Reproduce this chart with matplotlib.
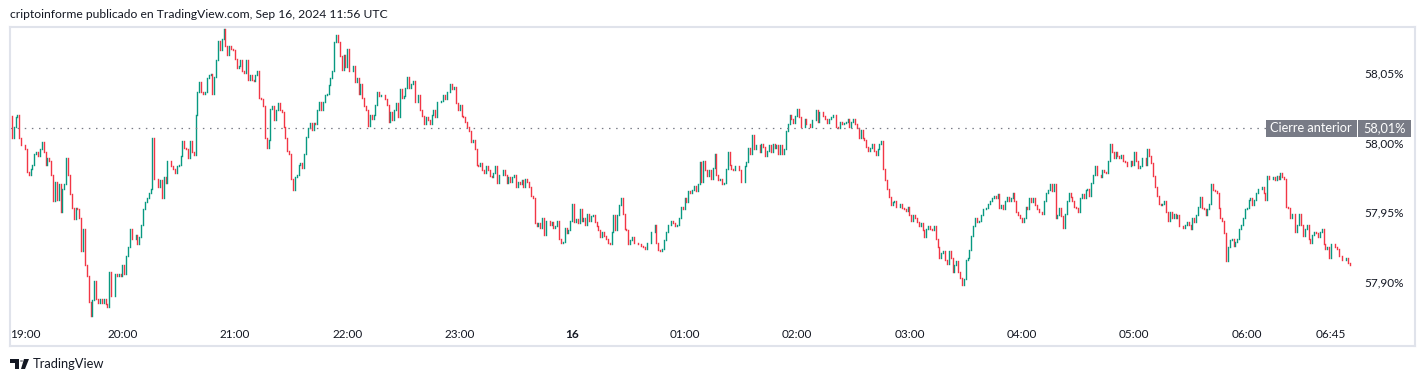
import numpy as np
import pandas as pd
import matplotlib
matplotlib.use("Agg")
import matplotlib.pyplot as plt
import matplotlib.transforms as mtransforms
from matplotlib.patches import Rectangle, Polygon

plt.rcParams['font.family'] = ['Lato', 'DejaVu Sans']

# 1-minute closes (in %), 19:01 -> 06:55
part1 = [58.003, 58.011, 58.018, 58.020, 58.003, 57.998, 57.998, 57.995, 57.979, 57.977,
         57.981, 57.984, 57.992, 57.993, 57.990, 57.995, 58.000, 57.993, 57.984, 57.989,
         57.987, 57.977, 57.958, 57.972, 57.959, 57.970, 57.950, 57.967, 57.970, 57.989,
         57.977, 57.963, 57.953, 57.945, 57.953, 57.952, 57.946, 57.922, 57.938, 57.912,
         57.904, 57.886, 57.876, 57.887, 57.901, 57.888, 57.885, 57.888, 57.885, 57.888,
         57.884, 57.882, 57.907, 57.890, 57.890, 57.906, 57.904, 57.906, 57.904, 57.912,
         57.906, 57.919, 57.925, 57.938, 57.931, 57.931, 57.934, 57.927, 57.932, 57.941,
         57.952, 57.957, 57.960, 57.964, 57.967, 58.003, 57.974, 57.974, 57.968, 57.973,
         57.960, 57.975, 57.971, 57.987, 57.987, 57.983, 57.981, 57.978, 57.983, 57.984,
         57.990, 58.001, 57.996, 57.995, 57.989, 58.001, 57.993, 57.991, 58.020, 58.036,
         58.043, 58.036, 58.035, 58.036, 58.046, 58.048, 58.049, 58.035, 58.047, 58.059,
         58.073, 58.066, 58.074, 58.081, 58.069, 58.063, 58.069, 58.067, 58.066, 58.060,
         58.053, 58.055, 58.059, 58.051, 58.050, 58.059, 58.045, 58.048, 58.045, 58.044,
         58.048, 58.051, 58.032, 58.031, 58.026, 58.003, 57.996, 58.002, 58.024, 58.026,
         58.016, 58.023, 58.028, 58.023]
part2 = [58.022, 58.011, 58.003, 57.994, 57.992, 57.974, 57.966, 57.975, 57.977, 57.984,
         57.985, 57.982, 57.992, 58.004, 58.010, 58.014, 58.009, 58.014, 58.013, 58.023,
         58.029, 58.023, 58.029, 58.034, 58.035, 58.041, 58.046, 58.051, 58.072, 58.077,
         58.072, 58.062, 58.052, 58.063, 58.054, 58.067, 58.051, 58.051, 58.055, 58.043, 58.046,
         58.035, 58.042, 58.032, 58.026, 58.023, 58.012, 58.020, 58.017, 58.020, 58.027,
         58.036, 58.033, 58.034, 58.034, 58.031, 58.027, 58.015, 58.022, 58.016, 58.023,
         58.028, 58.018, 58.038, 58.032, 58.033, 58.039, 58.047, 58.039, 58.042, 58.044,
         58.029, 58.029, 58.034, 58.023, 58.019, 58.013, 58.018, 58.016, 58.013, 58.020,
         58.023, 58.018, 58.029, 58.029, 58.030, 58.034, 58.031, 58.036, 58.036, 58.042,
         58.038, 58.040, 58.028, 58.023, 58.027, 58.019, 58.018, 58.015, 58.011, 58.008,
         58.000, 58.002, 57.995, 57.984, 57.983, 57.985, 57.980, 57.978, 57.983, 57.980,
         57.976, 57.975, 57.978, 57.983, 57.971, 57.977, 57.977, 57.980, 57.977, 57.971,
         57.975, 57.972, 57.975, 57.977, 57.968, 57.972, 57.970, 57.973, 57.968, 57.974,
         57.972, 57.968, 57.962, 57.960, 57.942, 57.940, 57.942, 57.939, 57.946, 57.934]
part3 = [57.944, 57.944, 57.941, 57.943, 57.939, 57.940, 57.944, 57.931, 57.928, 57.929,
         57.939, 57.935, 57.937, 57.944, 57.956, 57.943, 57.945, 57.942, 57.952, 57.944, 57.946,
         57.941, 57.949, 57.944, 57.947, 57.948, 57.943, 57.940, 57.937, 57.932, 57.936,
         57.933, 57.931, 57.928, 57.927, 57.936, 57.948, 57.937, 57.948, 57.955, 57.960,
         57.949, 57.938, 57.937, 57.927, 57.930, 57.932, 57.928, 57.928, 57.927, 57.927, 57.926,
         57.925, 57.924, 57.928, 57.928, 57.936, 57.936, 57.941, 57.928, 57.923, 57.922,
         57.924, 57.930, 57.936, 57.941, 57.941, 57.944, 57.942, 57.940, 57.941, 57.946, 57.954,
         57.952, 57.960, 57.957, 57.965, 57.964, 57.966, 57.969, 57.965, 57.970, 57.986,
         57.972, 57.987, 57.980, 57.976, 57.980, 57.974, 57.982, 57.992, 57.977, 57.973, 57.974,
         57.970, 57.971, 57.981, 57.993, 57.984, 57.981, 57.980, 57.983, 57.983, 57.980,
         57.972, 57.972, 57.983, 57.986, 57.996, 57.992, 58.005, 57.995, 57.998, 57.998,
         57.993, 57.999, 57.997, 57.990, 57.994, 57.998, 57.993, 57.999, 57.996, 57.998, 57.992,
         57.998, 57.992, 57.995, 58.008, 58.013, 58.020, 58.017, 58.014, 58.019, 58.024, 58.018,
         58.011, 58.011, 58.017, 58.013, 58.013, 58.011]
part4 = [58.016, 58.016, 58.023, 58.015, 58.022, 58.022, 58.019, 58.017, 58.014, 58.017, 58.018,
         58.020, 58.020, 58.011, 58.010, 58.015, 58.013, 58.014, 58.015, 58.017, 58.011,
         58.015, 58.017, 58.013, 58.010, 58.003, 58.009, 58.003, 58.002, 57.997, 57.994, 57.996,
         57.999, 57.994, 57.991, 57.995, 57.999, 58.001, 57.981, 57.973, 57.967, 57.961,
         57.955, 57.957, 57.958, 57.954, 57.954, 57.956, 57.953, 57.952, 57.951, 57.954, 57.948,
         57.944, 57.948, 57.946, 57.943, 57.940, 57.942, 57.937, 57.932, 57.938, 57.940, 57.938,
         57.937, 57.940, 57.931, 57.925, 57.917, 57.921, 57.922, 57.916, 57.913, 57.922,
         57.917, 57.907, 57.912, 57.915, 57.907, 57.903, 57.898, 57.902, 57.916, 57.917, 57.923,
         57.933, 57.940, 57.946, 57.943, 57.944, 57.948, 57.952, 57.952, 57.953, 57.956, 57.958,
         57.960, 57.962, 57.960, 57.963, 57.953, 57.955, 57.952, 57.958, 57.961, 57.958, 57.960,
         57.964, 57.958, 57.950, 57.948, 57.946, 57.943, 57.946, 57.954, 57.952, 57.960, 57.957,
         57.960, 57.955, 57.952, 57.950, 57.950, 57.949, 57.958, 57.964, 57.966, 57.970,
         57.965, 57.970, 57.946, 57.948, 57.953, 57.947, 57.939, 57.949, 57.958, 57.964, 57.961,
         57.958, 57.954, 57.953, 57.950]
part5 = [57.960, 57.963, 57.960, 57.966, 57.967, 57.962, 57.971, 57.977, 57.983, 57.977,
         57.977, 57.975, 57.980, 57.979, 57.978, 57.987, 57.999, 57.993, 57.989, 57.993, 57.990,
         57.989, 57.991, 57.987, 57.986, 57.983, 57.983, 57.987, 57.984, 57.993, 57.987,
         57.982, 57.983, 57.989, 57.989, 57.984, 57.995, 57.990, 57.985, 57.976, 57.968, 57.962,
         57.956, 57.955, 57.956, 57.958, 57.950, 57.944, 57.950, 57.946, 57.949, 57.946,
         57.948, 57.940, 57.940, 57.939, 57.941, 57.943, 57.941, 57.938, 57.946, 57.943, 57.948,
         57.954, 57.961, 57.953, 57.952, 57.948, 57.952, 57.956, 57.970, 57.966, 57.965,
         57.964, 57.953, 57.946, 57.944, 57.935, 57.915, 57.925, 57.930, 57.931, 57.926, 57.929,
         57.931, 57.938, 57.941, 57.946, 57.952, 57.953, 57.959, 57.960, 57.955, 57.959,
         57.964, 57.967, 57.967, 57.968, 57.964, 57.959, 57.976, 57.974, 57.974, 57.975, 57.973,
         57.976, 57.974, 57.978, 57.975, 57.974, 57.954, 57.953, 57.946, 57.949, 57.949,
         57.936, 57.941, 57.949, 57.941, 57.933, 57.938, 57.941, 57.931, 57.928, 57.934, 57.936,
         57.935, 57.932, 57.936, 57.938, 57.927, 57.924, 57.925, 57.917, 57.927, 57.927, 57.925,
         57.924, 57.919, 57.919, 57.916, 57.916, 57.917, 57.914, 57.912]

first_open = 58.019
prev_close = 58.01
price_ticks = [57.90, 57.95, 58.00, 58.05]
time_ticks = ['2024-09-15 19:00', '2024-09-15 20:00', '2024-09-15 21:00', '2024-09-15 22:00',
              '2024-09-15 23:00', '2024-09-16 00:00', '2024-09-16 01:00', '2024-09-16 02:00',
              '2024-09-16 03:00', '2024-09-16 04:00', '2024-09-16 05:00', '2024-09-16 06:00',
              '2024-09-16 06:45']
time_labels = ['19:00', '20:00', '21:00', '22:00', '23:00', '16', '01:00', '02:00',
               '03:00', '04:00', '05:00', '06:00', '06:45']

UP = '#089981'
DOWN = '#f23645'
TXT = '#131722'

closes = np.array(part1 + part2 + part3 + part4 + part5)
opens = np.r_[first_open, closes[:-1]]
times = pd.date_range('2024-09-15 19:01', periods=len(closes), freq='1min').to_numpy()
colors = np.where(closes >= opens, UP, DOWN)

fig = plt.figure(figsize=(14.26, 3.82), dpi=100)
ax = fig.add_axes([10 / 1426, 36 / 382, 1405 / 1426, 319 / 382])

ax.vlines(times, np.minimum(opens, closes), np.maximum(opens, closes),
          colors=colors, lw=1.0, capstyle='projecting')

ax.set_xlim(np.datetime64('2024-09-15T19:00:26'), np.datetime64('2024-09-16T07:29:48'))
ax.set_ylim(57.8542, 58.0827)

# previous close line + label
ax.axhline(prev_close, xmax=0.894, color='#787b86', lw=0.9, ls=(0, (1.2, 4.5)))
tr = mtransforms.blended_transform_factory(fig.transFigure, ax.transData)
h = 0.0119
ax.add_patch(Rectangle((1266 / 1426, prev_close - h / 2), 90.5 / 1426, h, transform=tr,
                       facecolor='#787b86', edgecolor='none', zorder=5, clip_on=False))
ax.add_patch(Rectangle((1358 / 1426, prev_close - h / 2), 53 / 1426, h, transform=tr,
                       facecolor='#787b86', edgecolor='none', zorder=5, clip_on=False))
ax.text(1311 / 1426, prev_close, 'Cierre anterior', transform=tr, color='white',
        fontsize=9.2, ha='center', va='center', zorder=6)
ax.text(1384.5 / 1426, prev_close, '58,01%', transform=tr, color='white',
        fontsize=9.2, ha='center', va='center', zorder=6)

# axes styling
for s in ax.spines.values():
    s.set_color('#e0e3eb')
    s.set_linewidth(1.5)

ax.yaxis.tick_right()
ax.set_yticks(price_ticks)
ax.set_yticklabels([f'{v:.2f}'.replace('.', ',') + '%' for v in price_ticks])
ax.tick_params(axis='y', length=0, pad=-8, labelsize=8.5, labelcolor=TXT)
for lab in ax.get_yticklabels():
    lab.set_horizontalalignment('right')

ax.set_xticks([np.datetime64(t) for t in time_ticks])
ax.set_xticklabels(time_labels)
ax.tick_params(axis='x', length=0, pad=-12.5, labelsize=8.5, labelcolor=TXT)
xl = ax.get_xticklabels()
xl[0].set_horizontalalignment('left')
xl[5].set_fontweight('bold')

# header / footer
fig.text(10 / 1426, 1 - 14 / 382, 'criptoinforme publicado en TradingView.com, Sep 16, 2024 11:56 UTC',
         fontsize=8.7, color=TXT, va='center', ha='left')
fig.text(33 / 1426, 1 - 364 / 382, 'TradingView', fontsize=9.3, color=TXT, va='center', ha='left')
W, H = 1426, 382
logo_t = Polygon([(10 / W, 1 - 359 / H), (19 / W, 1 - 359 / H), (19 / W, 1 - 369 / H),
                  (15 / W, 1 - 369 / H), (15 / W, 1 - 362.5 / H), (10 / W, 1 - 362.5 / H)],
                 closed=True, transform=fig.transFigure, facecolor=TXT, edgecolor='none')
logo_v = Polygon([(24 / W, 1 - 359 / H), (29 / W, 1 - 359 / H), (25 / W, 1 - 369 / H),
                  (21 / W, 1 - 369 / H)],
                 closed=True, transform=fig.transFigure, facecolor=TXT, edgecolor='none')
fig.add_artist(logo_t)
fig.add_artist(logo_v)
fig.add_artist(matplotlib.patches.Circle((21.5 / W, 1 - 361 / H), 1.6 / W,
                                         transform=fig.transFigure, facecolor=TXT, edgecolor='none'))

fig.savefig('out.png', dpi=100)
